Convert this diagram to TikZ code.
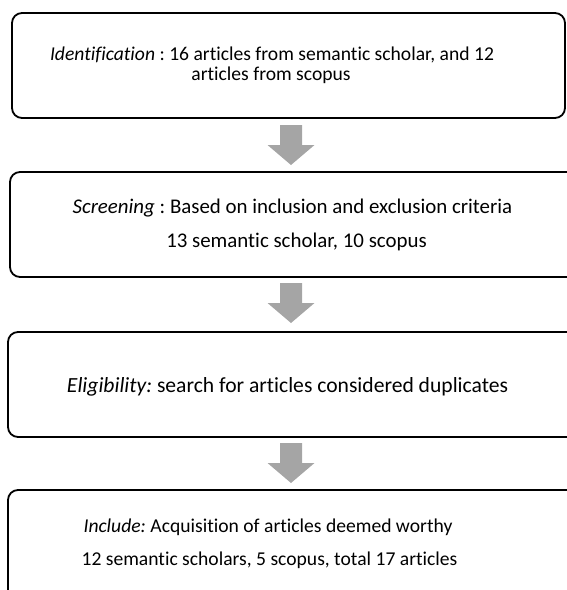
\documentclass[tikz,border=0pt]{standalone}
\usepackage{fontspec}
\setmainfont{Carlito}[Ligatures=NoCommon]
\definecolor{arrowgray}{HTML}{A5A5A5}
\newcommand\blockarrowpath[1]{\fill[blockarrow] (#1) ++(-11,0) -- ++(22,0) -- ++(0,20) -- ++(12.5,0) -- ++(-23.5,20) -- ++(-23.5,-20) -- ++(12.5,0) -- cycle;}
\begin{document}
\frenchspacing
\begin{tikzpicture}[x=1pt,y=-1pt,
  box/.style={draw=black, line width=1.8pt, rounded corners=10pt, inner sep=0pt, outer sep=0pt},
  lbl/.style={anchor=base, inner sep=0pt, font=\fontsize{19.6}{20}\selectfont},
  lblb/.style={anchor=base, inner sep=0pt, font=\fontsize{20.9}{22}\selectfont},
  lblc/.style={anchor=base, inner sep=0pt, font=\fontsize{21.6}{22}\selectfont},
  blockarrow/.style={fill=arrowgray}]
\useasboundingbox (0,0) rectangle (567,590);
\clip (0,0) rectangle (567,590);
\node[box, minimum width=553pt, minimum height=105pt] (b1) at (288.5,65.5) {};
\node[box, minimum width=570pt, minimum height=105pt] (b2) at (295,224.5) {};
\node[box, minimum width=572pt, minimum height=105pt] (b3) at (294,384.5) {};
\node[box, minimum width=572pt, minimum height=130pt] (b4) at (294,555) {};
\coordinate (a1) at (291,125);
\coordinate (a2) at (291,283);
\coordinate (a3) at (291,443);
\blockarrowpath{a1}
\blockarrowpath{a2}
\blockarrowpath{a3}
\node[lbl] (t1a) at (272,60) {\textit{Identification} : 16 articles from semantic scholar, and 12};
\node[lbl] (t1b) at (271,80) {articles from scopus};
\node[lblb] (t2a) at (292.5,213) {\textit{Screening} : Based on inclusion and exclusion criteria};
\node[lblb] (t2b) at (296.5,247) {13 semantic scholar, 10 scopus};
\node[lblc] (t3) at (287.5,392) {\textit{Eligibility:} search for articles considered duplicates};
\node[lbl] (t4a) at (268,532) {\textit{Include:} Acquisition of articles deemed worthy};
\node[lbl] (t4b) at (269.5,565) {12 semantic scholars, 5 scopus, total 17 articles};
\end{tikzpicture}
\end{document}
